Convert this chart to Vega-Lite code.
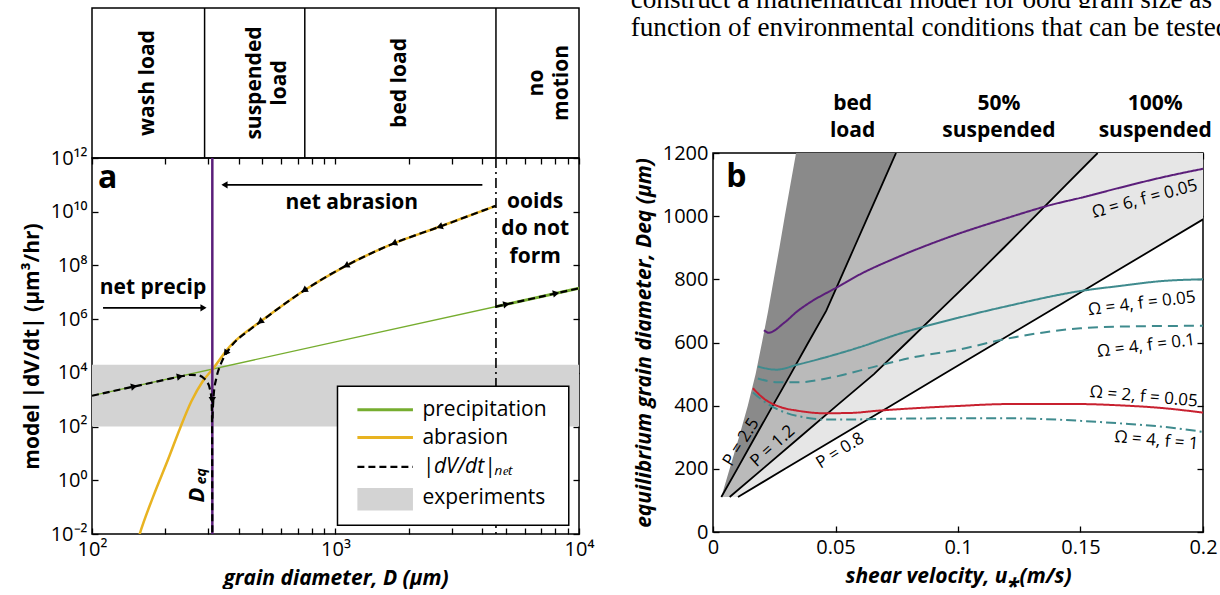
{
  "$schema": "https://vega.github.io/schema/vega-lite/v6.json",
  "background": "white",
  "padding": {"left": 20, "top": 0, "right": 0, "bottom": 0},
  "config": {
    "font": "Open Sans",
    "view": {"stroke": null},
    "axis": {
      "domain": false, "grid": false, "ticks": true,
      "tickColor": "black", "tickSize": -6, "tickWidth": 1.3,
      "labelColor": "black", "labelFont": "Open Sans", "labelFontSize": 20, "labelPadding": 11,
      "labelFlush": false, "labelOverlap": false,
      "titleColor": "black", "titleFont": "Open Sans", "titleFontSize": 21, "titleFontWeight": "bold", "titlePadding": 8
    },
    "text": {"font": "Open Sans", "color": "black"}
  },
  "datasets": {
    "paper1": [{"pos": 0.478, "line": 0.95, "t": "construct a mathematical model for ooid grain size as a"}],
    "paper2": [{"pos": 0.478, "line": 4.5, "t": "function of environmental conditions that can be tested"}],
    "regimeBounds": [{"D": 290}, {"D": 748}, {"D": 4560}],
    "regimeLabels": [
      {"D": 170, "t": "wash load"},
      {"D": 466, "t": "suspended\nload"},
      {"D": 1845, "t": "bed load"},
      {"D": 6745, "t": "no\nmotion"}
    ],
    "band": [{"D": 100, "D2": 10000, "V": 100, "V2": 20000}],
    "precip": [{"D": 100, "V": 1413}, {"D": 1000, "V": 141300}, {"D": 10000, "V": 14130000}],
    "precipThick": [{"D": 4560, "V": 2924000}, {"D": 10000, "V": 14130000}],
    "abrasion": [
      {"D": 151, "V": 0.003}, {"D": 157, "V": 0.01}, {"D": 178, "V": 0.237}, {"D": 206, "V": 6.46},
      {"D": 230, "V": 87}, {"D": 256, "V": 871}, {"D": 285, "V": 4898}, {"D": 312, "V": 13335},
      {"D": 367, "V": 93325}, {"D": 449, "V": 450000}, {"D": 490, "V": 794000}, {"D": 729, "V": 10500000},
      {"D": 1084, "V": 89000000}, {"D": 1734, "V": 660000000}, {"D": 2673, "V": 2750000000}, {"D": 4550, "V": 16600000000}
    ],
    "net": [
      {"br": "L", "D": 100, "V": 1400}, {"br": "L", "D": 150, "V": 3150}, {"br": "L", "D": 200, "V": 5550},
      {"br": "L", "D": 230, "V": 7300}, {"br": "L", "D": 256, "V": 8400}, {"br": "L", "D": 275, "V": 8000},
      {"br": "L", "D": 288, "V": 6300}, {"br": "L", "D": 297, "V": 4600}, {"br": "L", "D": 304, "V": 2800},
      {"br": "L", "D": 309, "V": 1200}, {"br": "L", "D": 311, "V": 300}, {"br": "L", "D": 312, "V": 0.005},
      {"br": "R", "D": 4550, "V": 16600000000}, {"br": "R", "D": 2673, "V": 2750000000}, {"br": "R", "D": 1734, "V": 660000000},
      {"br": "R", "D": 1084, "V": 89000000}, {"br": "R", "D": 729, "V": 10400000}, {"br": "R", "D": 490, "V": 780000},
      {"br": "R", "D": 449, "V": 430000}, {"br": "R", "D": 367, "V": 80000}, {"br": "R", "D": 347, "V": 36000},
      {"br": "R", "D": 337, "V": 20000}, {"br": "R", "D": 324, "V": 6300}, {"br": "R", "D": 316, "V": 1500},
      {"br": "R", "D": 313, "V": 300}, {"br": "R", "D": 312.5, "V": 200},
      {"br": "F", "D": 4560, "V": 2924000}, {"br": "F", "D": 10000, "V": 14130000}
    ],
    "arrowsA": [
      {"k": "dl20", "D": 2673, "V": 2750000000},
      {"k": "dl23", "D": 1734, "V": 660000000},
      {"k": "dl28", "D": 1104, "V": 98000000},
      {"k": "dl33", "D": 743, "V": 11700000},
      {"k": "dl37", "D": 490, "V": 794000},
      {"k": "dl55", "D": 354, "V": 54000},
      {"k": "down", "D": 312, "V": 955},
      {"k": "ur12", "D": 149, "V": 3133},
      {"k": "ur12", "D": 230, "V": 7400},
      {"k": "ur12", "D": 5035, "V": 3580000},
      {"k": "ur12", "D": 8054, "V": 9160000},
      {"k": "bigL", "D": 350, "V": 100000000000},
      {"k": "bigR", "D": 287, "V": 2630000}
    ],
    "bigArrows": [{"D": 4010, "D2": 345, "V": 100000000000}, {"D": 111, "D2": 290, "V": 2630000}],
    "legendBox": [{"D": 1019, "D2": 9078, "V": 0.0214, "V2": 3162}],
    "legendLines": [
      {"k": "precipitation", "D": 1230, "V": 422}, {"k": "precipitation", "D": 2080, "V": 422},
      {"k": "abrasion", "D": 1230, "V": 38.9}, {"k": "abrasion", "D": 2080, "V": 38.9}
    ],
    "legendNet": [{"D": 1230, "V": 3.16}, {"D": 2080, "V": 3.16}],
    "legendSwatch": [{"D": 1230, "D2": 2080, "V": 0.075, "V2": 0.513}],
    "legendText": [
      {"D": 2275, "V": 422, "t": "precipitation"},
      {"D": 2275, "V": 38.9, "t": "abrasion"},
      {"D": 2275, "V": 0.224, "t": "experiments"}
    ],
    "legendTextNet": [{"D": 2275, "V": 3.16, "t": "|dV/dt|ₙₑₜ"}],
    "textsA": [
      {"D": 1167, "V": 20400000000, "t": "net abrasion"},
      {"D": 178, "V": 14100000, "t": "net precip"},
      {"D": 6607, "V": 23700000000, "t": "ooids"},
      {"D": 6607, "V": 2240000000, "t": "do not"},
      {"D": 6607, "V": 204000000, "t": "form"}
    ],
    "letterA": [{"D": 116, "V": 178000000000, "t": "a"}],
    "deqD": [{"D": 270, "V": 0.28, "t": "D"}],
    "deqSub": [{"D": 282, "V": 1.41, "t": "eq"}],
    "regions": [
      {"reg": "dark", "Deq": 111, "ua": 0.0034, "ub": 0.0034},
      {"reg": "dark", "Deq": 200, "ua": 0.0068, "ub": 0.0099},
      {"reg": "dark", "Deq": 300, "ua": 0.0106, "ub": 0.0171},
      {"reg": "dark", "Deq": 400, "ua": 0.0142, "ub": 0.0244},
      {"reg": "dark", "Deq": 500, "ua": 0.0174, "ub": 0.0317},
      {"reg": "dark", "Deq": 600, "ua": 0.0200, "ub": 0.0389},
      {"reg": "dark", "Deq": 700, "ua": 0.0225, "ub": 0.0462},
      {"reg": "dark", "Deq": 800, "ua": 0.0248, "ub": 0.0519},
      {"reg": "dark", "Deq": 900, "ua": 0.0271, "ub": 0.0576},
      {"reg": "dark", "Deq": 1000, "ua": 0.0293, "ub": 0.0633},
      {"reg": "dark", "Deq": 1100, "ua": 0.0316, "ub": 0.0690},
      {"reg": "dark", "Deq": 1200, "ua": 0.0339, "ub": 0.0747},
      {"reg": "mid", "Deq": 111, "ua": 0.0034, "ub": 0.0068},
      {"reg": "mid", "Deq": 200, "ua": 0.0099, "ub": 0.0203},
      {"reg": "mid", "Deq": 300, "ua": 0.0171, "ub": 0.0354},
      {"reg": "mid", "Deq": 400, "ua": 0.0244, "ub": 0.0505},
      {"reg": "mid", "Deq": 500, "ua": 0.0317, "ub": 0.0657},
      {"reg": "mid", "Deq": 600, "ua": 0.0389, "ub": 0.0791},
      {"reg": "mid", "Deq": 700, "ua": 0.0462, "ub": 0.0924},
      {"reg": "mid", "Deq": 800, "ua": 0.0519, "ub": 0.1057},
      {"reg": "mid", "Deq": 900, "ua": 0.0576, "ub": 0.1187},
      {"reg": "mid", "Deq": 1000, "ua": 0.0633, "ub": 0.1315},
      {"reg": "mid", "Deq": 1100, "ua": 0.0690, "ub": 0.1442},
      {"reg": "mid", "Deq": 1200, "ua": 0.0747, "ub": 0.1570},
      {"reg": "light", "Deq": 111, "ua": 0.0068, "ub": 0.0102},
      {"reg": "light", "Deq": 200, "ua": 0.0203, "ub": 0.0294},
      {"reg": "light", "Deq": 300, "ua": 0.0354, "ub": 0.0510},
      {"reg": "light", "Deq": 400, "ua": 0.0505, "ub": 0.0726},
      {"reg": "light", "Deq": 500, "ua": 0.0657, "ub": 0.0942},
      {"reg": "light", "Deq": 600, "ua": 0.0791, "ub": 0.1158},
      {"reg": "light", "Deq": 700, "ua": 0.0924, "ub": 0.1374},
      {"reg": "light", "Deq": 800, "ua": 0.1057, "ub": 0.1590},
      {"reg": "light", "Deq": 900, "ua": 0.1187, "ub": 0.1806},
      {"reg": "light", "Deq": 1000, "ua": 0.1315, "ub": 0.2022},
      {"reg": "light", "Deq": 1100, "ua": 0.1442, "ub": 0.2238},
      {"reg": "light", "Deq": 1200, "ua": 0.1570, "ub": 0.2454}
    ],
    "curvesB": [
      {"s": "o6f005", "u": 0.0208, "Deq": 639}, {"s": "o6f005", "u": 0.0227, "Deq": 631}, {"s": "o6f005", "u": 0.029, "Deq": 662},
      {"s": "o6f005", "u": 0.0346, "Deq": 700}, {"s": "o6f005", "u": 0.0386, "Deq": 722}, {"s": "o6f005", "u": 0.0509, "Deq": 776},
      {"s": "o6f005", "u": 0.0598, "Deq": 815}, {"s": "o6f005", "u": 0.075, "Deq": 869}, {"s": "o6f005", "u": 0.0957, "Deq": 932},
      {"s": "o6f005", "u": 0.12, "Deq": 994}, {"s": "o6f005", "u": 0.1386, "Deq": 1037}, {"s": "o6f005", "u": 0.15, "Deq": 1058},
      {"s": "o6f005", "u": 0.166, "Deq": 1090}, {"s": "o6f005", "u": 0.184, "Deq": 1124}, {"s": "o6f005", "u": 0.2, "Deq": 1150},
      {"s": "o4f005", "u": 0.0183, "Deq": 524}, {"s": "o4f005", "u": 0.0258, "Deq": 514}, {"s": "o4f005", "u": 0.0346, "Deq": 530},
      {"s": "o4f005", "u": 0.0482, "Deq": 558}, {"s": "o4f005", "u": 0.0598, "Deq": 585}, {"s": "o4f005", "u": 0.075, "Deq": 625},
      {"s": "o4f005", "u": 0.1, "Deq": 678}, {"s": "o4f005", "u": 0.12, "Deq": 715}, {"s": "o4f005", "u": 0.15, "Deq": 763},
      {"s": "o4f005", "u": 0.166, "Deq": 779}, {"s": "o4f005", "u": 0.184, "Deq": 795}, {"s": "o4f005", "u": 0.2, "Deq": 800},
      {"s": "o4f01", "u": 0.0183, "Deq": 486}, {"s": "o4f01", "u": 0.0265, "Deq": 474}, {"s": "o4f01", "u": 0.0346, "Deq": 474},
      {"s": "o4f01", "u": 0.0482, "Deq": 489}, {"s": "o4f01", "u": 0.0672, "Deq": 526}, {"s": "o4f01", "u": 0.0818, "Deq": 553},
      {"s": "o4f01", "u": 0.1, "Deq": 577}, {"s": "o4f01", "u": 0.12, "Deq": 612}, {"s": "o4f01", "u": 0.135, "Deq": 632},
      {"s": "o4f01", "u": 0.15, "Deq": 645}, {"s": "o4f01", "u": 0.17, "Deq": 651}, {"s": "o4f01", "u": 0.2, "Deq": 653},
      {"s": "o2f005", "u": 0.0163, "Deq": 455}, {"s": "o2f005", "u": 0.021, "Deq": 421}, {"s": "o2f005", "u": 0.0278, "Deq": 395},
      {"s": "o2f005", "u": 0.0346, "Deq": 384}, {"s": "o2f005", "u": 0.0455, "Deq": 376}, {"s": "o2f005", "u": 0.0563, "Deq": 377},
      {"s": "o2f005", "u": 0.0672, "Deq": 384}, {"s": "o2f005", "u": 0.1, "Deq": 399}, {"s": "o2f005", "u": 0.12, "Deq": 405},
      {"s": "o2f005", "u": 0.15, "Deq": 405}, {"s": "o2f005", "u": 0.166, "Deq": 401}, {"s": "o2f005", "u": 0.184, "Deq": 392},
      {"s": "o2f005", "u": 0.2, "Deq": 378},
      {"s": "o4f1", "u": 0.0163, "Deq": 442}, {"s": "o4f1", "u": 0.0224, "Deq": 405}, {"s": "o4f1", "u": 0.0292, "Deq": 379},
      {"s": "o4f1", "u": 0.0373, "Deq": 363}, {"s": "o4f1", "u": 0.0455, "Deq": 356}, {"s": "o4f1", "u": 0.0563, "Deq": 356},
      {"s": "o4f1", "u": 0.0672, "Deq": 358}, {"s": "o4f1", "u": 0.1, "Deq": 360}, {"s": "o4f1", "u": 0.12, "Deq": 360},
      {"s": "o4f1", "u": 0.15, "Deq": 352}, {"s": "o4f1", "u": 0.166, "Deq": 344}, {"s": "o4f1", "u": 0.184, "Deq": 333},
      {"s": "o4f1", "u": 0.2, "Deq": 317}
    ],
    "pLabels": [
      {"k": "a", "t": "P = 2.5", "u": 0.0115, "Deq": 284},
      {"k": "b", "t": "P = 1.2", "u": 0.0244, "Deq": 272},
      {"k": "c", "t": "P = 0.8", "u": 0.0519, "Deq": 257}
    ],
    "cLabels": [
      {"k": "m15", "t": "Ω = 6, f = 0.05", "u": 0.1762, "Deq": 1054},
      {"k": "m7", "t": "Ω = 4, f = 0.05", "u": 0.175, "Deq": 723},
      {"k": "m7", "t": "Ω = 4, f = 0.1", "u": 0.1768, "Deq": 589},
      {"k": "p5", "t": "Ω = 2, f = 0.05", "u": 0.1758, "Deq": 428},
      {"k": "p5", "t": "Ω = 4, f = 1", "u": 0.181, "Deq": 289}
    ],
    "regLabelsB": [
      {"u": 0.057, "Deq": 1355, "t": "bed"}, {"u": 0.057, "Deq": 1270, "t": "load"},
      {"u": 0.1167, "Deq": 1355, "t": "50%"}, {"u": 0.1167, "Deq": 1270, "t": "suspended"},
      {"u": 0.1805, "Deq": 1355, "t": "100%"}, {"u": 0.1805, "Deq": 1270, "t": "suspended"}
    ],
    "letterB": [{"u": 0.0095, "Deq": 1125, "t": "b"}]
  },
  "bounds": "flush",
  "spacing": 0,
  "vconcat": [
    {
      "width": 1127, "height": 8,
      "layer": [
        {
          "data": {"name": "paper1"},
          "mark": {"type": "text", "align": "left", "baseline": "alphabetic", "font": "Liberation Serif", "fontSize": 27.2, "clip": true},
          "encoding": {
            "x": {"field": "pos", "type": "quantitative", "scale": {"domain": [0, 1], "nice": false, "zero": false}, "axis": null},
            "y": {"field": "line", "type": "quantitative", "scale": {"domain": [0, 1], "reverse": true, "nice": false, "zero": false}, "axis": null},
            "text": {"field": "t"}
          }
        },
        {
          "data": {"name": "paper2"},
          "mark": {"type": "text", "align": "left", "baseline": "alphabetic", "font": "Liberation Serif", "fontSize": 27.2},
          "encoding": {
            "x": {"field": "pos", "type": "quantitative"},
            "y": {"field": "line", "type": "quantitative"},
            "text": {"field": "t"}
          }
        }
      ]
    },
    {
      "spacing": 37,
      "hconcat": [
        {
          "spacing": 0,
          "bounds": "flush",
          "vconcat": [
            {
              "width": 487, "height": 150,
              "view": {"stroke": "black", "strokeWidth": 1.5},
              "layer": [
                {
                  "data": {"name": "regimeBounds"},
                  "mark": {"type": "rule", "color": "black", "strokeWidth": 1.5},
                  "encoding": {"x": {"field": "D", "type": "quantitative", "scale": {"type": "log", "domain": [100, 10000], "nice": false}, "axis": null}}
                },
                {
                  "data": {"name": "regimeLabels"},
                  "mark": {"type": "text", "angle": -90, "fontSize": 21, "fontWeight": "bold", "lineBreak": "\n", "lineHeight": 25, "align": "center", "baseline": "middle"},
                  "encoding": {"x": {"field": "D", "type": "quantitative", "axis": null}, "text": {"field": "t"}}
                }
              ]
            },
            {
              "width": 487, "height": 376,
              "view": {"stroke": "black", "strokeWidth": 1.5},
              "resolve": {"axis": {"x": "independent", "y": "independent"}},
              "layer": [
                {
                  "data": {"name": "band"},
                  "mark": {"type": "rect", "color": "#d3d3d3", "clip": true},
                  "encoding": {
                    "x": {"field": "D", "type": "quantitative", "scale": {"type": "log", "domain": [100, 10000], "nice": false},
                          "axis": {"orient": "top", "labels": false, "title": null, "values": [100, 200, 300, 400, 500, 600, 700, 800, 900, 1000, 2000, 3000, 4000, 5000, 6000, 7000, 8000, 9000, 10000]}},
                    "x2": {"field": "D2"},
                    "y": {"field": "V", "type": "quantitative", "scale": {"type": "log", "domain": [0.01, 1000000000000], "nice": false},
                          "axis": {"orient": "right", "labels": false, "title": null, "values": [0.01, 1, 100, 10000, 1000000, 100000000, 10000000000, 1000000000000]}},
                    "y2": {"field": "V2"}
                  }
                },
                {
                  "layer": [
                    {
                      "data": {"name": "precip"},
                      "mark": {"type": "line", "color": "#76ad2f", "strokeWidth": 1.3, "clip": true},
                      "encoding": {
                        "x": {"field": "D", "type": "quantitative", "scale": {"type": "log", "domain": [100, 10000], "nice": false},
                              "axis": {"orient": "bottom", "title": "grain diameter, D (µm)", "titleFontStyle": "italic",
                                       "values": [100, 200, 300, 400, 500, 600, 700, 800, 900, 1000, 2000, 3000, 4000, 5000, 6000, 7000, 8000, 9000, 10000],
                                       "labelExpr": "datum.value == 100 ? '10²' : datum.value == 1000 ? '10³' : datum.value == 10000 ? '10⁴' : ''"}},
                        "y": {"field": "V", "type": "quantitative", "scale": {"type": "log", "domain": [0.01, 1000000000000], "nice": false},
                              "axis": {"orient": "left", "title": "model |dV/dt| (µm³/hr)",
                                       "values": [0.01, 1, 100, 10000, 1000000, 100000000, 10000000000, 1000000000000],
                                       "labelExpr": "datum.value < 0.1 ? '10⁻²' : datum.value < 10 ? '10⁰' : datum.value < 1000 ? '10²' : datum.value < 100000 ? '10⁴' : datum.value < 10000000 ? '10⁶' : datum.value < 1000000000 ? '10⁸' : datum.value < 100000000000 ? '10¹⁰' : '10¹²'"}}
                      }
                    },
                    {
                      "data": {"name": "precipThick"},
                      "mark": {"type": "line", "color": "#76ad2f", "strokeWidth": 3, "clip": true},
                      "encoding": {"x": {"field": "D", "type": "quantitative"}, "y": {"field": "V", "type": "quantitative"}}
                    },
                    {
                      "data": {"name": "abrasion"},
                      "mark": {"type": "line", "color": "#e8b321", "strokeWidth": 2.5, "interpolate": "monotone", "clip": true},
                      "encoding": {"x": {"field": "D", "type": "quantitative"}, "y": {"field": "V", "type": "quantitative"}}
                    },
                    {
                      "data": {"values": [{"D": 312}]},
                      "mark": {"type": "rule", "color": "#5a1e79", "strokeWidth": 2.5},
                      "encoding": {"x": {"field": "D", "type": "quantitative"}}
                    },
                    {
                      "data": {"values": [{"D": 4560}]},
                      "mark": {"type": "rule", "color": "black", "strokeWidth": 1.6, "strokeDash": [10, 4, 2, 4]},
                      "encoding": {"x": {"field": "D", "type": "quantitative"}}
                    },
                    {
                      "data": {"name": "net"},
                      "mark": {"type": "line", "color": "black", "strokeWidth": 2.2, "strokeDash": [7, 4], "interpolate": "monotone", "clip": true},
                      "encoding": {"x": {"field": "D", "type": "quantitative"}, "y": {"field": "V", "type": "quantitative"}, "detail": {"field": "br"}}
                    },
                    {
                      "data": {"name": "bigArrows"},
                      "mark": {"type": "rule", "color": "black", "strokeWidth": 1.6},
                      "encoding": {"x": {"field": "D", "type": "quantitative"}, "x2": {"field": "D2"}, "y": {"field": "V", "type": "quantitative"}}
                    },
                    {"data": {"name": "arrowsA"}, "transform": [{"filter": "datum.k == 'dl20'"}], "mark": {"type": "point", "shape": "triangle-left", "angle": -20, "filled": true, "color": "black", "opacity": 1, "size": 55}, "encoding": {"x": {"field": "D", "type": "quantitative"}, "y": {"field": "V", "type": "quantitative"}}},
                    {"data": {"name": "arrowsA"}, "transform": [{"filter": "datum.k == 'dl23'"}], "mark": {"type": "point", "shape": "triangle-left", "angle": -23, "filled": true, "color": "black", "opacity": 1, "size": 55}, "encoding": {"x": {"field": "D", "type": "quantitative"}, "y": {"field": "V", "type": "quantitative"}}},
                    {"data": {"name": "arrowsA"}, "transform": [{"filter": "datum.k == 'dl28'"}], "mark": {"type": "point", "shape": "triangle-left", "angle": -28, "filled": true, "color": "black", "opacity": 1, "size": 55}, "encoding": {"x": {"field": "D", "type": "quantitative"}, "y": {"field": "V", "type": "quantitative"}}},
                    {"data": {"name": "arrowsA"}, "transform": [{"filter": "datum.k == 'dl33'"}], "mark": {"type": "point", "shape": "triangle-left", "angle": -33, "filled": true, "color": "black", "opacity": 1, "size": 55}, "encoding": {"x": {"field": "D", "type": "quantitative"}, "y": {"field": "V", "type": "quantitative"}}},
                    {"data": {"name": "arrowsA"}, "transform": [{"filter": "datum.k == 'dl37'"}], "mark": {"type": "point", "shape": "triangle-left", "angle": -37, "filled": true, "color": "black", "opacity": 1, "size": 55}, "encoding": {"x": {"field": "D", "type": "quantitative"}, "y": {"field": "V", "type": "quantitative"}}},
                    {"data": {"name": "arrowsA"}, "transform": [{"filter": "datum.k == 'dl55'"}], "mark": {"type": "point", "shape": "triangle-left", "angle": -55, "filled": true, "color": "black", "opacity": 1, "size": 55}, "encoding": {"x": {"field": "D", "type": "quantitative"}, "y": {"field": "V", "type": "quantitative"}}},
                    {"data": {"name": "arrowsA"}, "transform": [{"filter": "datum.k == 'down'"}], "mark": {"type": "point", "shape": "triangle-down", "filled": true, "color": "black", "opacity": 1, "size": 55}, "encoding": {"x": {"field": "D", "type": "quantitative"}, "y": {"field": "V", "type": "quantitative"}}},
                    {"data": {"name": "arrowsA"}, "transform": [{"filter": "datum.k == 'ur12'"}], "mark": {"type": "point", "shape": "triangle-right", "angle": -12, "filled": true, "color": "black", "opacity": 1, "size": 55}, "encoding": {"x": {"field": "D", "type": "quantitative"}, "y": {"field": "V", "type": "quantitative"}}},
                    {"data": {"name": "arrowsA"}, "transform": [{"filter": "datum.k == 'bigL'"}], "mark": {"type": "point", "shape": "triangle-left", "filled": true, "color": "black", "opacity": 1, "size": 50}, "encoding": {"x": {"field": "D", "type": "quantitative"}, "y": {"field": "V", "type": "quantitative"}}},
                    {"data": {"name": "arrowsA"}, "transform": [{"filter": "datum.k == 'bigR'"}], "mark": {"type": "point", "shape": "triangle-right", "filled": true, "color": "black", "opacity": 1, "size": 50}, "encoding": {"x": {"field": "D", "type": "quantitative"}, "y": {"field": "V", "type": "quantitative"}}},
                    {
                      "data": {"name": "legendBox"},
                      "mark": {"type": "rect", "fill": "white", "stroke": "black", "strokeWidth": 1.5},
                      "encoding": {"x": {"field": "D", "type": "quantitative"}, "x2": {"field": "D2"}, "y": {"field": "V", "type": "quantitative"}, "y2": {"field": "V2"}}
                    },
                    {
                      "data": {"name": "legendLines"},
                      "mark": {"type": "line", "strokeWidth": 3},
                      "encoding": {
                        "x": {"field": "D", "type": "quantitative"}, "y": {"field": "V", "type": "quantitative"},
                        "color": {"field": "k", "type": "nominal", "scale": {"domain": ["precipitation", "abrasion"], "range": ["#76ad2f", "#e8b321"]}, "legend": null}
                      }
                    },
                    {
                      "data": {"name": "legendNet"},
                      "mark": {"type": "line", "color": "black", "strokeWidth": 2.2, "strokeDash": [7, 4]},
                      "encoding": {"x": {"field": "D", "type": "quantitative"}, "y": {"field": "V", "type": "quantitative"}}
                    },
                    {
                      "data": {"name": "legendSwatch"},
                      "mark": {"type": "rect", "color": "#d3d3d3"},
                      "encoding": {"x": {"field": "D", "type": "quantitative"}, "x2": {"field": "D2"}, "y": {"field": "V", "type": "quantitative"}, "y2": {"field": "V2"}}
                    },
                    {
                      "data": {"name": "legendText"},
                      "mark": {"type": "text", "fontSize": 21, "align": "left", "baseline": "middle"},
                      "encoding": {"x": {"field": "D", "type": "quantitative"}, "y": {"field": "V", "type": "quantitative"}, "text": {"field": "t"}}
                    },
                    {
                      "data": {"name": "legendTextNet"},
                      "mark": {"type": "text", "fontSize": 21, "fontStyle": "italic", "align": "left", "baseline": "middle"},
                      "encoding": {"x": {"field": "D", "type": "quantitative"}, "y": {"field": "V", "type": "quantitative"}, "text": {"field": "t"}}
                    },
                    {
                      "data": {"name": "textsA"},
                      "mark": {"type": "text", "fontSize": 21, "fontWeight": "bold", "align": "center", "baseline": "middle"},
                      "encoding": {"x": {"field": "D", "type": "quantitative"}, "y": {"field": "V", "type": "quantitative"}, "text": {"field": "t"}}
                    },
                    {
                      "data": {"name": "letterA"},
                      "mark": {"type": "text", "fontSize": 32, "fontWeight": "bold", "align": "center", "baseline": "middle"},
                      "encoding": {"x": {"field": "D", "type": "quantitative"}, "y": {"field": "V", "type": "quantitative"}, "text": {"field": "t"}}
                    },
                    {
                      "data": {"name": "deqD"},
                      "mark": {"type": "text", "fontSize": 22, "fontWeight": "bold", "fontStyle": "italic", "angle": -90, "align": "center", "baseline": "middle"},
                      "encoding": {"x": {"field": "D", "type": "quantitative"}, "y": {"field": "V", "type": "quantitative"}, "text": {"field": "t"}}
                    },
                    {
                      "data": {"name": "deqSub"},
                      "mark": {"type": "text", "fontSize": 14, "fontWeight": "bold", "fontStyle": "italic", "angle": -90, "align": "center", "baseline": "middle"},
                      "encoding": {"x": {"field": "D", "type": "quantitative"}, "y": {"field": "V", "type": "quantitative"}, "text": {"field": "t"}}
                    }
                  ]
                }
              ]
            }
          ]
        },
        {
          "spacing": 0,
          "vconcat": [
            {
              "width": 490, "height": 84,
              "data": {"values": [{"k": 1}]},
              "mark": {"type": "rect", "opacity": 0},
              "encoding": {}
            },
            {
              "width": 490, "height": 379,
              "view": {"stroke": "black", "strokeWidth": 1.5},
              "resolve": {"axis": {"x": "independent", "y": "independent"}, "scale": {"color": "independent"}},
              "layer": [
                {
                  "data": {"name": "regions"},
                  "mark": {"type": "area", "orient": "horizontal", "clip": true},
                  "encoding": {
                    "y": {"field": "Deq", "type": "quantitative", "scale": {"domain": [0, 1200], "nice": false},
                          "axis": {"orient": "right", "labels": false, "title": null, "values": [0, 200, 400, 600, 800, 1000, 1200]}},
                    "x": {"field": "ua", "type": "quantitative", "scale": {"domain": [0, 0.2], "nice": false},
                          "axis": {"orient": "top", "labels": false, "title": null, "values": [0, 0.05, 0.1, 0.15, 0.2]}},
                    "x2": {"field": "ub"},
                    "color": {"field": "reg", "type": "nominal", "scale": {"domain": ["dark", "mid", "light"], "range": ["#8a8a8a", "#bababa", "#e6e6e6"]}, "legend": null}
                  }
                },
                {
                  "layer": [
                    {
                      "data": {"name": "regions"},
                      "mark": {"type": "line", "color": "black", "strokeWidth": 1.8, "clip": true},
                      "encoding": {
                        "x": {"field": "ub", "type": "quantitative", "scale": {"domain": [0, 0.2], "nice": false},
                              "axis": {"orient": "bottom", "title": "shear velocity, u⁎(m/s)", "titleFontStyle": "italic", "values": [0, 0.05, 0.1, 0.15, 0.2], "format": "~g"}},
                        "y": {"field": "Deq", "type": "quantitative", "scale": {"domain": [0, 1200], "nice": false},
                              "axis": {"orient": "left", "title": "equilibrium grain diameter, Deq (µm)", "titleFontStyle": "italic", "values": [0, 200, 400, 600, 800, 1000, 1200], "format": "d"}},
                        "detail": {"field": "reg"},
                        "order": {"field": "Deq"}
                      }
                    },
                    {
                      "data": {"name": "curvesB"},
                      "mark": {"type": "line", "strokeWidth": 2, "interpolate": "monotone", "clip": true},
                      "encoding": {
                        "x": {"field": "u", "type": "quantitative"},
                        "y": {"field": "Deq", "type": "quantitative"},
                        "color": {"field": "s", "type": "nominal", "scale": {"domain": ["o6f005", "o4f005", "o4f01", "o2f005", "o4f1"], "range": ["#5b1e7a", "#3f8b8e", "#3f8b8e", "#c8202f", "#3f8b8e"]}, "legend": null},
                        "strokeDash": {"field": "s", "type": "nominal", "scale": {"domain": ["o6f005", "o4f005", "o4f01", "o2f005", "o4f1"], "range": [[1, 0], [1, 0], [10, 6], [1, 0], [10, 4, 2, 4]]}, "legend": null}
                      }
                    },
                    {"data": {"name": "pLabels"}, "transform": [{"filter": "datum.k == 'a'"}], "mark": {"type": "text", "fontSize": 17, "angle": -58, "align": "center", "baseline": "middle"}, "encoding": {"x": {"field": "u", "type": "quantitative"}, "y": {"field": "Deq", "type": "quantitative"}, "text": {"field": "t"}}},
                    {"data": {"name": "pLabels"}, "transform": [{"filter": "datum.k == 'b'"}], "mark": {"type": "text", "fontSize": 17, "angle": -42, "align": "center", "baseline": "middle"}, "encoding": {"x": {"field": "u", "type": "quantitative"}, "y": {"field": "Deq", "type": "quantitative"}, "text": {"field": "t"}}},
                    {"data": {"name": "pLabels"}, "transform": [{"filter": "datum.k == 'c'"}], "mark": {"type": "text", "fontSize": 17, "angle": -32, "align": "center", "baseline": "middle"}, "encoding": {"x": {"field": "u", "type": "quantitative"}, "y": {"field": "Deq", "type": "quantitative"}, "text": {"field": "t"}}},
                    {"data": {"name": "cLabels"}, "transform": [{"filter": "datum.k == 'm15'"}], "mark": {"type": "text", "fontSize": 17, "angle": -15, "align": "center", "baseline": "middle"}, "encoding": {"x": {"field": "u", "type": "quantitative"}, "y": {"field": "Deq", "type": "quantitative"}, "text": {"field": "t"}}},
                    {"data": {"name": "cLabels"}, "transform": [{"filter": "datum.k == 'm7'"}], "mark": {"type": "text", "fontSize": 17, "angle": -7, "align": "center", "baseline": "middle"}, "encoding": {"x": {"field": "u", "type": "quantitative"}, "y": {"field": "Deq", "type": "quantitative"}, "text": {"field": "t"}}},
                    {"data": {"name": "cLabels"}, "transform": [{"filter": "datum.k == 'p5'"}], "mark": {"type": "text", "fontSize": 17, "angle": 5, "align": "center", "baseline": "middle"}, "encoding": {"x": {"field": "u", "type": "quantitative"}, "y": {"field": "Deq", "type": "quantitative"}, "text": {"field": "t"}}},
                    {
                      "data": {"name": "regLabelsB"},
                      "mark": {"type": "text", "fontSize": 21, "fontWeight": "bold", "align": "center", "baseline": "middle"},
                      "encoding": {"x": {"field": "u", "type": "quantitative"}, "y": {"field": "Deq", "type": "quantitative"}, "text": {"field": "t"}}
                    },
                    {
                      "data": {"name": "letterB"},
                      "mark": {"type": "text", "fontSize": 32, "fontWeight": "bold", "align": "center", "baseline": "middle"},
                      "encoding": {"x": {"field": "u", "type": "quantitative"}, "y": {"field": "Deq", "type": "quantitative"}, "text": {"field": "t"}}
                    }
                  ]
                }
              ]
            }
          ]
        }
      ]
    }
  ]
}
